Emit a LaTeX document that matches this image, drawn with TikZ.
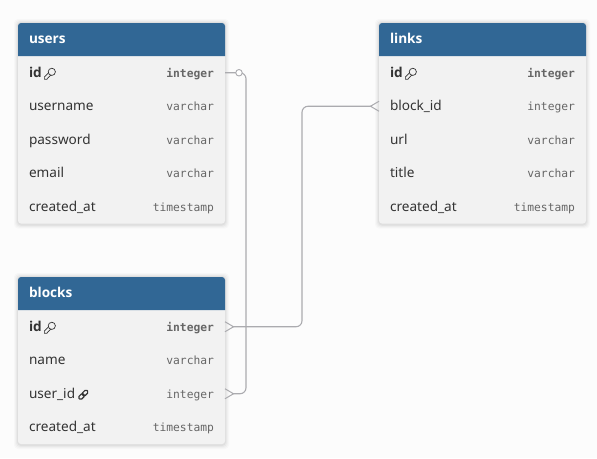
\documentclass[tikz,border=0pt]{standalone}
\usepackage{fontspec}
\setmainfont{Noto Sans}
\newfontfamily\boldsans{Open Sans}
\newfontfamily\typefont{DejaVu Sans Mono}
\usetikzlibrary{arrows.meta, positioning, backgrounds}

\definecolor{headblue}{HTML}{316795}
\definecolor{bodygray}{HTML}{F2F2F2}
\definecolor{linegray}{HTML}{ABABAF}
\definecolor{inkgray}{HTML}{333333}
\definecolor{typegray}{HTML}{666666}

\tikzset{
	tablehead/.style={anchor=north west, minimum width=207pt, minimum height=33pt, inner xsep=11pt, inner ysep=0pt, outer sep=0pt,
		text width=185pt, text height=10pt, text depth=3pt, align=left, text=white, font=\fontsize{13.6}{16}\selectfont\boldsans\bfseries},
	rowcell/.style={minimum width=207pt, minimum height=33.5pt, inner xsep=11pt, inner ysep=0pt, outer sep=0pt,
		text width=185pt, text height=12pt, text depth=3pt, align=left, text=inkgray, font=\fontsize{13.6}{16}\selectfont},
	relation/.style={draw=linegray, line width=1.1pt, rounded corners=6pt},
	crowfoot/.style={draw=linegray, line width=1pt},
	optcircle/.style={circle, draw=linegray, fill=white, line width=.9pt, minimum size=6.5pt, inner sep=0pt}
}

\newcommand{\typelabel}[1]{\hfill{\typefont\fontsize{11.3}{14}\selectfont\color{typegray}#1}}
\newcommand{\keytype}[1]{\hfill{\typefont\bfseries\fontsize{11.3}{14}\selectfont\color{typegray}#1}}
\newcommand{\keyname}[1]{{\boldsans\bfseries #1}}
\newcommand{\keyicon}{\,\tikz[baseline=-3.5pt, x=1.2pt, y=1.2pt]{\draw[inkgray, line width=.7pt, line cap=round] (-4.6,-4.6) -- (-4.6,-2.6) -- (-.8,1) (-4.6,-4.6) -- (-2.6,-4.6) -- (1,-.8); \draw[inkgray, line width=.7pt, fill=bodygray] (1.6,1.6) circle (3.6pt);}}
\newcommand{\linkicon}{\,\tikz[baseline=-3.5pt, x=1pt, y=1pt]{\draw[inkgray, line width=1.2pt, rotate=45, rounded corners=1.4pt] (-5.6,-1.9) rectangle (.6,1.9) (-.6,-1.9) rectangle (5.6,1.9);}}

\begin{document}
\begin{tikzpicture}[x=1pt, y=-1pt, node distance=0pt]
	\useasboundingbox (0,0) rectangle (597,458);

	% users
	\node[tablehead] (users) at (18,23) {users};
	\node[rowcell, below=of users] (users id) {\keyname{id}\keyicon\keytype{integer}};
	\node[rowcell, below=of users id] (users name) {username\typelabel{varchar}};
	\node[rowcell, below=of users name] (users pass) {password\typelabel{varchar}};
	\node[rowcell, below=of users pass] (users mail) {email\typelabel{varchar}};
	\node[rowcell, below=of users mail] (users created) {created\_at\typelabel{timestamp}};

	% blocks
	\node[tablehead, below=53.5pt of users created.south west, anchor=north west] (blocks) {blocks};
	\node[rowcell, below=of blocks] (blocks id) {\keyname{id}\keyicon\keytype{integer}};
	\node[rowcell, below=of blocks id] (blocks name) {name\typelabel{varchar}};
	\node[rowcell, below=of blocks name] (blocks user) {user\_id\linkicon\typelabel{integer}};
	\node[rowcell, below=of blocks user] (blocks created) {created\_at\typelabel{timestamp}};

	% links
	\node[tablehead, right=154pt of users.north east, anchor=north west] (links) {links};
	\node[rowcell, below=of links] (links id) {\keyname{id}\keyicon\keytype{integer}};
	\node[rowcell, below=of links id] (links block) {block\_id\typelabel{integer}};
	\node[rowcell, below=of links block] (links url) {url\typelabel{varchar}};
	\node[rowcell, below=of links url] (links title) {title\typelabel{varchar}};
	\node[rowcell, below=of links title] (links created) {created\_at\typelabel{timestamp}};

	\begin{scope}[on background layer]
		\fill[white!99!black] (0,0) rectangle (597,458);
		\foreach \head/\last in {users/users created, blocks/blocks created, links/links created} {
			\foreach \grow/\alpha in {4/.02, 3/.025, 2/.03, 1/.04}
				\fill[black, opacity=\alpha, rounded corners=4pt] ([xshift=-\grow pt, yshift=\grow pt]\head.north west) rectangle ([xshift=\grow pt, yshift=-\grow pt - 1pt]\last.south east);
			\fill[bodygray, rounded corners=3pt] (\head.north west) rectangle (\last.south east);
			\fill[headblue] (\head.south west) [rounded corners=3pt] -- (\head.north west) -- (\head.north east) [sharp corners] -- (\head.south east) -- cycle;
		}
	\end{scope}

	% relations
	\draw[relation, shorten >=8pt] (users id.east) -- ++(21,0) |- (blocks user.east);
	\node[optcircle] (users opt) at ([xshift=14pt]users id.east) {};
	\draw[relation, shorten <=8pt, shorten >=8pt] (links block.west) -- ++(-77,0) |- (blocks id.east);
	\foreach \row/\sgn in {blocks user.east/1, blocks id.east/1, links block.west/-1}
		\draw[crowfoot] ([yshift=5pt]\row) -- ([xshift=\sgn*8.5pt]\row) -- ([yshift=-5pt]\row);
\end{tikzpicture}
\end{document}
